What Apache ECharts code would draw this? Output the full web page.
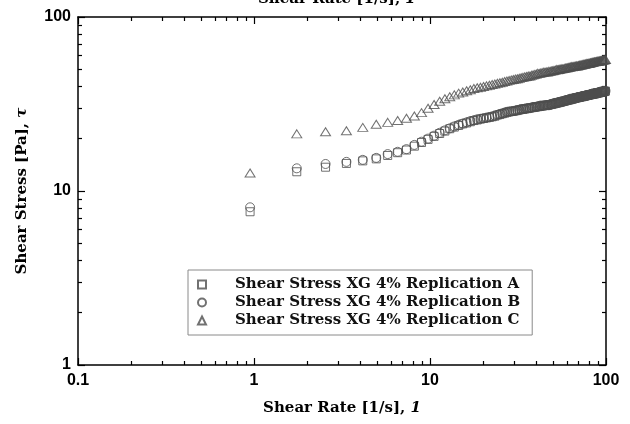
<!DOCTYPE html>
<html>
<head>
<meta charset="utf-8">
<script src="https://cdn.jsdelivr.net/npm/echarts@6/dist/echarts.min.js"></script>
<style>
  html, body { margin: 0; padding: 0; background: #fff; }
  #chart { width: 630px; height: 424px; }
</style>
</head>
<body>
<div id="chart"></div>
<script>
// Flow curve of a 4% xanthan gum solution, three replications (shear rate in 1/s, stress in Pa)
const shearRate = [
  0.95, 1.75, 2.55, 3.35, 4.15, 4.95, 5.75, 6.55, 7.35, 8.15, 8.95, 9.75,
  10.55, 11.35, 12.15, 12.95, 13.75, 14.55, 15.35, 16.15, 16.95, 17.75, 18.55, 19.35,
  20.15, 20.95, 21.75, 22.55, 23.35, 24.15, 24.95, 25.75, 26.55, 27.35, 28.15, 28.95,
  29.75, 30.55, 31.35, 32.15, 32.95, 33.75, 34.55, 35.35, 36.15, 36.95, 37.75, 38.55,
  39.35, 40.15, 40.95, 41.75, 42.55, 43.35, 44.15, 44.95, 45.75, 46.55, 47.35, 48.15,
  48.95, 49.75, 50.55, 51.35, 52.15, 52.95, 53.75, 54.55, 55.35, 56.15, 56.95, 57.75,
  58.55, 59.35, 60.15, 60.95, 61.75, 62.55, 63.35, 64.15, 64.95, 65.75, 66.55, 67.35,
  68.15, 68.95, 69.75, 70.55, 71.35, 72.15, 72.95, 73.75, 74.55, 75.35, 76.15, 76.95,
  77.75, 78.55, 79.35, 80.15, 80.95, 81.75, 82.55, 83.35, 84.15, 84.95, 85.75, 86.55,
  87.35, 88.15, 88.95, 89.75, 90.55, 91.35, 92.15, 92.95, 93.75, 94.55, 95.35, 96.15,
  96.95, 97.75, 98.55, 99.35
];

const stressA = [
  7.6, 12.9, 13.7, 14.4, 14.9, 15.3, 16.0, 16.6, 17.2, 18.1, 19.0, 19.8,
  20.6, 21.4, 22.1, 22.8, 23.3, 23.8, 24.3, 24.6, 25.0, 25.4, 25.6, 25.9,
  26.1, 26.3, 26.5, 26.7, 26.9, 27.3, 27.5, 27.8, 28.0, 28.3, 28.5, 28.7,
  28.7, 28.9, 29.0, 29.2, 29.4, 29.5, 29.6, 29.8, 29.9, 30.0, 30.1, 30.2,
  30.3, 30.5, 30.5, 30.6, 30.8, 30.8, 30.9, 31.0, 31.1, 31.1, 31.2, 31.4,
  31.4, 31.6, 31.7, 31.9, 31.9, 32.1, 32.2, 32.3, 32.5, 32.6, 32.7, 32.8,
  32.9, 33.1, 33.2, 33.3, 33.4, 33.5, 33.7, 33.7, 33.9, 34.0, 34.1, 34.2,
  34.3, 34.4, 34.5, 34.5, 34.7, 34.8, 34.8, 34.9, 35.0, 35.1, 35.2, 35.3,
  35.4, 35.4, 35.6, 35.6, 35.7, 35.8, 35.9, 35.9, 36.0, 36.1, 36.2, 36.2,
  36.3, 36.4, 36.5, 36.6, 36.6, 36.7, 36.8, 36.9, 36.9, 37.0, 37.1, 37.2,
  37.2, 37.3, 37.4, 37.5
];

const stressB = [
  8.06, 13.5, 14.3, 14.7, 15.1, 15.5, 16.3, 16.8, 17.4, 18.4, 19.2, 20.0,
  20.8, 21.6, 22.3, 22.9, 23.5, 24.0, 24.4, 24.8, 25.2, 25.5, 25.8, 26.0,
  26.2, 26.4, 26.6, 26.8, 27.1, 27.4, 27.7, 27.9, 28.2, 28.5, 28.6, 28.7,
  28.8, 29.0, 29.2, 29.3, 29.6, 29.6, 29.7, 29.8, 29.9, 29.9, 30.2, 30.3,
  30.4, 30.5, 30.6, 30.7, 31.0, 30.9, 31.0, 31.1, 31.1, 31.2, 31.1, 31.4,
  31.6, 31.7, 31.8, 32.1, 32.1, 32.2, 32.3, 32.5, 32.6, 32.7, 32.6, 32.9,
  33.1, 33.2, 33.3, 33.4, 33.5, 33.9, 33.7, 33.9, 34.0, 34.1, 34.2, 34.1,
  34.4, 34.5, 34.6, 34.7, 34.7, 34.8, 35.1, 35.0, 35.1, 35.2, 35.3, 35.4,
  35.5, 35.4, 35.6, 35.7, 35.8, 35.9, 36.0, 36.1, 36.4, 36.2, 36.3, 36.4,
  36.5, 36.6, 36.4, 36.7, 36.8, 36.9, 37.0, 37.0, 37.3, 37.2, 37.3, 37.3,
  37.4, 37.3, 37.5, 37.6
];

const stressC = [
  12.7, 21.3, 21.9, 22.2, 23.2, 24.2, 24.8, 25.4, 26.2, 27.0, 28.2, 29.9,
  31.4, 32.8, 33.9, 34.8, 35.7, 36.5, 37.1, 37.7, 38.2, 38.8, 39.2, 39.5,
  39.9, 40.2, 40.5, 40.9, 41.2, 41.6, 41.9, 42.2, 42.6, 42.9, 43.2, 43.5,
  43.7, 44.0, 44.2, 44.5, 44.8, 45.0, 45.3, 45.5, 45.8, 45.8, 46.3, 46.5,
  46.8, 47.0, 47.5, 47.4, 47.6, 47.9, 48.1, 48.2, 48.4, 48.3, 48.7, 48.8,
  49.0, 49.1, 49.3, 49.5, 49.9, 49.8, 49.9, 50.1, 50.3, 50.4, 50.5, 50.5,
  50.9, 51.0, 51.1, 51.3, 51.4, 51.5, 51.9, 51.8, 51.9, 52.0, 52.2, 52.3,
  52.4, 52.3, 52.6, 52.8, 52.9, 53.0, 53.1, 53.3, 53.6, 53.5, 53.7, 53.8,
  54.0, 54.1, 54.2, 54.0, 54.4, 54.6, 54.7, 54.8, 54.9, 55.0, 55.4, 55.2,
  55.4, 55.5, 55.6, 55.7, 55.8, 55.7, 56.0, 56.1, 56.2, 56.3, 56.4, 56.8,
  56.6, 56.7, 56.9, 57.0
];

const seriesNames = [
  'Shear Stress XG 4% Replication A',
  'Shear Stress XG 4% Replication B',
  'Shear Stress XG 4% Replication C'
];

// Decade ticks carry labels; minor ticks mark 2..9 within each decade
const xMajorTicks = [0.1, 1, 10, 100];
const xMinorTicks = [0.2, 0.3, 0.4, 0.5, 0.6, 0.7, 0.8, 0.9, 2, 3, 4, 5, 6, 7, 8, 9, 20, 30, 40, 50, 60, 70, 80, 90];
const yMajorTicks = [1, 10, 100];
const yMinorTicks = [2, 3, 4, 5, 6, 7, 8, 9, 20, 30, 40, 50, 60, 70, 80, 90];

const SERIF = '"DejaVu Serif", "Liberation Serif", serif';
const SANS = '"Liberation Sans", Arial, sans-serif';
const INK = '#000';
const MARK = '#4d4d4d';

function pairs(xs, ys) {
  return xs.map((x, i) => [x, ys[i]]);
}

function logAxis(opts) {
  const base = {
    type: 'log',
    logBase: 10,
    min: opts.min,
    max: opts.max,
    position: opts.position,
    axisLine: { show: opts.line, onZero: false, lineStyle: { color: INK, width: 1.5 } },
    axisTick: {
      show: true,
      inside: true,
      length: opts.major ? 7 : 4,
      customValues: opts.ticks,
      lineStyle: { color: INK, width: 1.2 }
    },
    axisLabel: { show: false },
    splitLine: { show: false },
    minorTick: { show: false },
    minorSplitLine: { show: false }
  };
  if (opts.labels) {
    base.axisLabel = {
      show: true,
      customValues: opts.ticks,
      formatter: (v) => String(v),
      fontFamily: SANS,
      fontWeight: 'bold',
      fontSize: 16,
      color: INK,
      margin: opts.margin
    };
  }
  return base;
}

function titleRich(size) {
  return {
    a: { fontFamily: SERIF, fontWeight: 'bold', fontSize: size, color: INK },
    b: { fontFamily: SERIF, fontWeight: 'bold', fontStyle: 'italic', fontSize: size, color: INK }
  };
}

const xBottom = logAxis({ min: 0.1, max: 100, position: 'bottom', line: true, major: true, ticks: xMajorTicks, labels: true, margin: 8 });
xBottom.name = '{a|Shear Rate [1/s], }{b|1}';
xBottom.nameLocation = 'middle';
xBottom.nameGap = 36;
xBottom.nameTextStyle = { rich: titleRich(15) };

const yLeft = logAxis({ min: 1, max: 100, position: 'left', line: true, major: true, ticks: yMajorTicks, labels: true, margin: 7 });
yLeft.name = '{a|Shear Stress [Pa], }{b|τ}';
yLeft.nameLocation = 'middle';
yLeft.nameGap = 48;
yLeft.nameTextStyle = { rich: titleRich(15) };

const markerStyle = { color: 'rgba(255,255,255,0)', borderColor: MARK, borderWidth: 1 };

const option = {
  animation: false,
  backgroundColor: '#fff',
  title: {
    text: '{a|Shear Rate [1/s], }{b|1}',
    left: 258,
    top: -8,
    padding: 0,
    textStyle: { rich: titleRich(15) }
  },
  grid: { left: 78, right: 24, top: 17, bottom: 59, containLabel: false },
  xAxis: [
    xBottom,
    logAxis({ min: 0.1, max: 100, position: 'bottom', line: false, major: false, ticks: xMinorTicks }),
    logAxis({ min: 0.1, max: 100, position: 'top', line: true, major: true, ticks: xMajorTicks }),
    logAxis({ min: 0.1, max: 100, position: 'top', line: false, major: false, ticks: xMinorTicks })
  ],
  yAxis: [
    yLeft,
    logAxis({ min: 1, max: 100, position: 'left', line: false, major: false, ticks: yMinorTicks }),
    logAxis({ min: 1, max: 100, position: 'right', line: true, major: true, ticks: yMajorTicks }),
    logAxis({ min: 1, max: 100, position: 'right', line: false, major: false, ticks: yMinorTicks })
  ],
  legend: {
    orient: 'vertical',
    left: 188,
    top: 270,
    padding: [7, 12, 7, 9],
    itemGap: 3,
    itemWidth: 8,
    itemHeight: 8,
    borderColor: '#8a8a8a',
    borderWidth: 1,
    backgroundColor: '#fff',
    selectedMode: false,
    textStyle: {
      fontFamily: SERIF,
      fontWeight: 'bold',
      fontSize: 15,
      color: '#111',
      padding: [0, 0, 0, 24]
    },
    data: seriesNames
  },
  series: [
    {
      name: seriesNames[0], type: 'scatter', xAxisIndex: 0, yAxisIndex: 0,
      symbol: 'rect', symbolSize: 8, itemStyle: markerStyle,
      emphasis: { disabled: true }, data: pairs(shearRate, stressA)
    },
    {
      name: seriesNames[1], type: 'scatter', xAxisIndex: 0, yAxisIndex: 0,
      symbol: 'circle', symbolSize: 9, itemStyle: markerStyle,
      emphasis: { disabled: true }, data: pairs(shearRate, stressB)
    },
    {
      name: seriesNames[2], type: 'scatter', xAxisIndex: 0, yAxisIndex: 0,
      symbol: 'triangle', symbolSize: [10, 8], itemStyle: markerStyle,
      emphasis: { disabled: true }, data: pairs(shearRate, stressC)
    }
  ]
};

const chart = echarts.init(document.getElementById('chart'), null, { renderer: 'canvas' });
chart.setOption(option);
</script>
</body>
</html>
